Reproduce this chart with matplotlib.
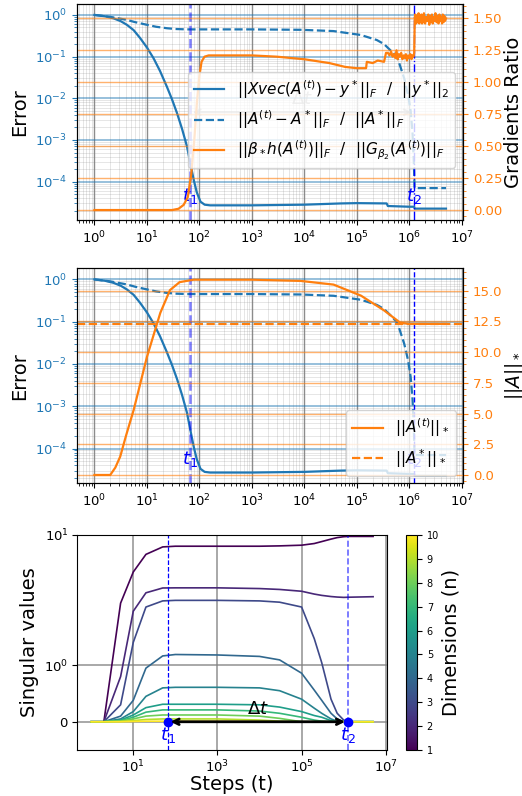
import numpy as np
import matplotlib
matplotlib.use('Agg')
import matplotlib.pyplot as plt
from matplotlib import colors, ticker

# phase boundaries
t1 = 66
t2 = 1.25e6

# relative fit error ||Xvec(A)-y*|| / ||y*||
err_t = [1, 1.58, 2.3, 3.16, 4.15, 5.6, 7.4, 10, 13.4, 17.8, 24, 30, 37.5, 47, 58, 67,
         78, 89, 105, 126, 160, 1e3, 1e4, 5e4, 1e5, 3.7e5, 3.9e5, 1e6, 1.24e6, 1.27e6, 5e6]
err_fit = [1.0, 0.93, 0.83, 0.71, 0.58, 0.43, 0.28, 0.166, 0.091, 0.045, 0.019, 9.5e-3,
           4.4e-3, 1.8e-3, 7e-4, 2.8e-4, 1.1e-4, 5.6e-5, 3.3e-5, 2.8e-5, 2.7e-5, 2.7e-5,
           2.8e-5, 3e-5, 3.05e-5, 3e-5, 2.6e-5, 2.5e-5, 2.5e-5, 2.25e-5, 2.25e-5]

# relative distance ||A - A*|| / ||A*||
dist_t = [1, 2, 4.15, 6, 10, 15, 24, 35, 58, 1e3, 8.5e3, 3.6e4, 1.2e5, 2.4e5, 3.3e5,
          5e5, 6e5, 8e5, 9.5e5, 1.06e6, 1.15e6, 1.22e6, 1.26e6, 5e6]
dist_err = [1.0, 0.9, 0.76, 0.67, 0.58, 0.52, 0.48, 0.46, 0.45, 0.45, 0.44, 0.41, 0.33,
            0.25, 0.2, 0.12, 0.09, 0.03, 0.012, 5e-3, 1.5e-3, 3e-4, 7e-5, 7e-5]

# gradients ratio (right axis of panel 1)
ratio_t = [1, 10, 30, 40, 50, 60, 70, 80, 90, 100, 110, 125, 150, 200, 500, 1e3, 3e3,
           1e4, 3e4, 6e4, 1e5, 1.5e5, 1.55e5, 2e5, 2.5e5, 3.3e5, 3.6e5,
           3.9e5, 4.2e5, 4.5e5, 4.8e5, 5.1e5, 5.4e5, 5.7e5, 6.0e5, 6.3e5, 6.6e5, 7.0e5,
           7.4e5, 7.8e5, 8.2e5, 8.6e5, 9.0e5, 9.5e5, 1.0e6, 1.05e6, 1.1e6, 1.15e6, 1.2e6,
           1.24e6, 1.27e6, 1.3e6, 1.35e6, 1.4e6, 1.45e6, 1.5e6, 1.55e6, 1.6e6, 1.65e6,
           1.7e6, 1.75e6, 1.8e6, 1.85e6, 1.9e6, 2.0e6, 2.1e6, 2.2e6, 2.3e6, 2.4e6, 2.5e6,
           2.6e6, 2.7e6, 2.8e6, 2.9e6, 3.0e6, 3.15e6, 3.3e6, 3.45e6, 3.6e6, 3.75e6, 3.9e6,
           4.05e6, 4.2e6, 4.35e6, 4.5e6, 4.65e6, 4.8e6, 5.0e6]
ratio = [0, 0, 0, 0.01, 0.04, 0.1, 0.28, 0.55, 0.85, 1.05, 1.16, 1.2, 1.21, 1.21, 1.21,
         1.21, 1.2, 1.18, 1.15, 1.12, 1.11, 1.11, 1.16, 1.15, 1.17, 1.16, 1.23,
         1.23, 1.21, 1.24, 1.20, 1.22, 1.19, 1.25, 1.18, 1.22, 1.20, 1.23,
         1.18, 1.21, 1.19, 1.22, 1.17, 1.21, 1.19, 1.22, 1.18, 1.21, 1.20,
         1.23, 1.50, 1.53, 1.46, 1.52, 1.47, 1.54, 1.46, 1.51, 1.48,
         1.53, 1.46, 1.52, 1.47, 1.54, 1.46, 1.51, 1.48, 1.53, 1.45, 1.52,
         1.47, 1.53, 1.46, 1.51, 1.48, 1.54, 1.47, 1.52, 1.46, 1.53, 1.48,
         1.51, 1.46, 1.53, 1.47, 1.52, 1.48, 1.50]

# nuclear norm (right axis of panel 2)
nuc_t = [1, 2, 2.5, 3.1, 4, 5.6, 10, 18, 27.5, 42, 78, 1e3, 8.5e3, 3.6e4, 1.2e5, 3.3e5,
         6.7e5, 1e6, 5e6]
nuc = [0, 0, 0.6, 1.5, 3.2, 5.3, 9.6, 13.2, 15.05, 15.7, 15.9, 15.9, 15.8, 15.5, 14.6,
       13.4, 12.4, 12.3, 12.3]
nuc_star = 12.3

# singular values (panel 3)
sv_t = [1, 2, 5, 10, 20, 50, 100, 1e3, 1e4, 3e4, 1e5, 2e5, 3e5, 5e5, 7e5, 1e6, 1.3e6, 5e6]
sv = [
    [0, 0, 3.0, 5.2, 7.1, 8.1, 8.2, 8.2, 8.2, 8.25, 8.35, 8.6, 8.9, 9.3, 9.55, 9.7, 9.75, 9.75],
    [0, 0, 0.8, 2.6, 3.6, 3.92, 3.93, 3.93, 3.88, 3.82, 3.7, 3.52, 3.44, 3.37, 3.34, 3.32, 3.33, 3.36],
    [0, 0, 0.3, 1.5, 2.8, 3.12, 3.15, 3.15, 3.12, 3.05, 2.8, 1.6, 1.05, 0.4, 0.15, 0.03, 0, 0],
    [0, 0, 0.1, 0.38, 0.95, 1.18, 1.21, 1.2, 1.17, 1.1, 0.86, 0.56, 0.38, 0.15, 0.05, 0, 0, 0],
    [0, 0, 0.05, 0.18, 0.45, 0.6, 0.61, 0.61, 0.6, 0.55, 0.4, 0.24, 0.15, 0.05, 0.01, 0, 0, 0],
    [0, 0, 0.03, 0.12, 0.25, 0.31, 0.31, 0.31, 0.3, 0.26, 0.18, 0.11, 0.08, 0.02, 0, 0, 0, 0],
    [0, 0, 0.02, 0.08, 0.17, 0.21, 0.21, 0.21, 0.19, 0.15, 0.08, 0.03, 0.01, 0, 0, 0, 0, 0],
    [0, 0, 0.01, 0.05, 0.1, 0.12, 0.12, 0.12, 0.1, 0.06, 0, 0, 0, 0, 0, 0, 0, 0],
    [0, 0, 0.005, 0.02, 0.04, 0.05, 0.05, 0.05, 0.03, 0.01, 0, 0, 0, 0, 0, 0, 0, 0],
    [0, 0, 0, 0.005, 0.01, 0.01, 0.01, 0.01, 0.005, 0, 0, 0, 0, 0, 0, 0, 0, 0],
]

blue = 'tab:blue'
orange = 'tab:orange'
tick_fs = 9.5
lab_fs = 14

fig = plt.figure(figsize=(5.22, 7.96), dpi=100)
ax1 = fig.add_axes([0.147, 0.7236, 0.7406, 0.271])
ax3 = fig.add_axes([0.147, 0.3928, 0.7406, 0.2705])
ax5 = fig.add_axes([0.1475, 0.0578, 0.5939, 0.2701])
cax = fig.add_axes([0.7778, 0.0578, 0.0211, 0.2701])


def style_error_axes(ax, axr):
    ax.set_xscale('log')
    ax.set_yscale('log')
    ax.set_xlim(0.46, 1.07e7)
    ax.grid(True, which='major', axis='x', color='k', alpha=0.45, lw=1)
    ax.grid(True, which='minor', axis='both', color='gray', alpha=0.2, lw=0.7)
    ax.grid(True, which='major', axis='y', color=blue, alpha=0.5, lw=1.3)
    ax.tick_params(axis='y', which='both', colors=blue, labelsize=tick_fs)
    ax.tick_params(axis='x', labelsize=tick_fs)
    ax.xaxis.set_minor_formatter(ticker.NullFormatter())
    ax.yaxis.set_major_locator(ticker.LogLocator(base=10, numticks=20))
    ax.yaxis.set_minor_locator(ticker.LogLocator(base=10, subs=np.arange(2, 10), numticks=20))
    ax.yaxis.set_minor_formatter(ticker.NullFormatter())
    ax.set_ylabel('Error', fontsize=lab_fs)
    axr.grid(True, which='major', axis='y', color=orange, alpha=0.6, lw=1)
    axr.tick_params(axis='y', which='both', colors=orange, labelsize=tick_fs)
    axr.xaxis.set_minor_formatter(ticker.NullFormatter())
    axr.minorticks_on()


# ---- panel 1 ----
ax2 = ax1.twinx()
style_error_axes(ax1, ax2)
l1, = ax1.plot(err_t, err_fit, color=blue, lw=1.6,
               label=r'$||Xvec(A^{(t)})-y^*||_F\ \ /\ \ ||y^*||_2$')
l2, = ax1.plot(dist_t, dist_err, color=blue, lw=1.6, ls='--',
               label=r'$||A^{(t)}-A^*||_F\ \ /\ \ ||A^*||_F$')
ax1.set_ylim(1.2e-5, 1.8)
ax1.axvline(t1, color='blue', alpha=0.5, ls='--', lw=1.8)
ax1.axvline(t2, color='blue', ls='-.', lw=1)
ax1.text(t1, 0.11, '$t_1$', color='blue', fontsize=13, ha='center', va='center',
         transform=ax1.get_xaxis_transform())
ax1.text(t2, 0.11, '$t_2$', color='blue', fontsize=13, ha='center', va='center',
         transform=ax1.get_xaxis_transform())
ax1.annotate('', xy=(t2, 0.5), xytext=(t1, 0.5), xycoords=ax1.get_xaxis_transform(),
             arrowprops=dict(arrowstyle='<->', color='gray', lw=1.5, alpha=0.6))
ax1.text(np.sqrt(t1 * t2), 0.56, r'$\Delta t$', color='gray', alpha=0.6, fontsize=13,
         ha='center', va='center', transform=ax1.get_xaxis_transform())
l3, = ax2.plot(ratio_t, ratio, color=orange, lw=1.6,
               label=r'$||\beta_* h(A^{(t)})||_F\ \ /\ \ ||G_{\beta_2}(A^{(t)})||_F$')
ax2.set_ylim(-0.078, 1.61)
ax2.set_yticks([0, 0.25, 0.5, 0.75, 1.0, 1.25, 1.5])
ax2.yaxis.set_major_formatter(ticker.FormatStrFormatter('%.2f'))
ax2.set_ylabel('Gradients Ratio', fontsize=14, labelpad=1)
ax2.legend(handles=[l1, l2, l3], loc='upper right', bbox_to_anchor=(0.979, 0.686),
           borderaxespad=0, fontsize=11, framealpha=0.8)

# ---- panel 2 ----
ax4 = ax3.twinx()
style_error_axes(ax3, ax4)
ax3.plot(err_t, err_fit, color=blue, lw=1.6)
ax3.plot(dist_t, dist_err, color=blue, lw=1.6, ls='--')
ax3.set_ylim(1.5e-5, 1.86)
ax3.axvline(t1, color='blue', alpha=0.5, ls='--', lw=1.8)
ax3.axvline(t2, color='blue', ls='--', lw=1)
ax3.text(t1, 0.115, '$t_1$', color='blue', fontsize=13, ha='center', va='center',
         transform=ax3.get_xaxis_transform())
ax3.text(t2, 0.115, '$t_2$', color='blue', fontsize=13, ha='center', va='center',
         transform=ax3.get_xaxis_transform())
m1, = ax4.plot(nuc_t, nuc, color=orange, lw=1.6, label=r'$||A^{(t)}||_*$')
m2 = ax4.axhline(nuc_star, color=orange, lw=1.6, ls='--', label=r'$||A^*||_*$')
ax4.set_ylim(-0.68, 16.85)
ax4.set_yticks([0, 2.5, 5, 7.5, 10, 12.5, 15])
ax4.yaxis.set_major_formatter(ticker.FormatStrFormatter('%.1f'))
ax4.set_ylabel(r'$||A||_*$', fontsize=13.5, labelpad=0)
ax4.legend(handles=[m1, m2], loc='lower right', fontsize=11, framealpha=0.8)

# ---- panel 3 ----
cmap = plt.get_cmap('viridis')
norm = colors.Normalize(vmin=1, vmax=10)
ax5.set_xscale('log')
ax5.set_yscale('symlog', linthresh=1, linscale=0.39)
for i, vals in enumerate(sv):
    ax5.plot(sv_t, vals, color=cmap(norm(i + 1)), lw=1.2)
ax5.set_xlim(0.46, 1.07e7)
ax5.set_ylim(-0.5, 10)
ax5.set_yticks([0, 1, 10])
ax5.yaxis.set_minor_locator(ticker.NullLocator())
ax5.set_xticks([10, 1e3, 1e5, 1e7])
ax5.xaxis.set_minor_locator(ticker.NullLocator())
ax5.grid(True, which='major', color='gray', alpha=0.8, lw=1.2)
ax5.tick_params(labelsize=tick_fs, pad=2.5)
ax5.axvline(t1, color='blue', ls='--', lw=0.9)
ax5.axvline(t2, color='blue', alpha=0.6, ls='--', lw=1.2)
ax5.annotate('', xy=(t2, 0), xytext=(t1, 0),
             arrowprops=dict(arrowstyle='<->', color='k', lw=2))
ax5.plot([t1, t2], [0, 0], 'o', color='blue', ms=6)
ax5.annotate('$t_1$', (t1, 0), xytext=(0, -2), textcoords='offset points',
             ha='center', va='top', color='blue', fontsize=13)
ax5.annotate('$t_2$', (t2, 0), xytext=(0, -2), textcoords='offset points',
             ha='center', va='top', color='blue', fontsize=13)
ax5.annotate(r'$\Delta t$', (np.sqrt(t1 * t2), 0), xytext=(0, 3), textcoords='offset points',
             ha='center', va='bottom', color='k', fontsize=13)
ax5.set_xlabel('Steps (t)', fontsize=lab_fs, labelpad=0)
ax5.set_ylabel('Singular values', fontsize=lab_fs)

sm = plt.cm.ScalarMappable(cmap=cmap, norm=norm)
cb = fig.colorbar(sm, cax=cax, ticks=range(1, 11))
cb.ax.tick_params(labelsize=7)
cb.set_label('Dimensions (n)', fontsize=lab_fs, labelpad=2)

fig.savefig('out.png', dpi=100)
